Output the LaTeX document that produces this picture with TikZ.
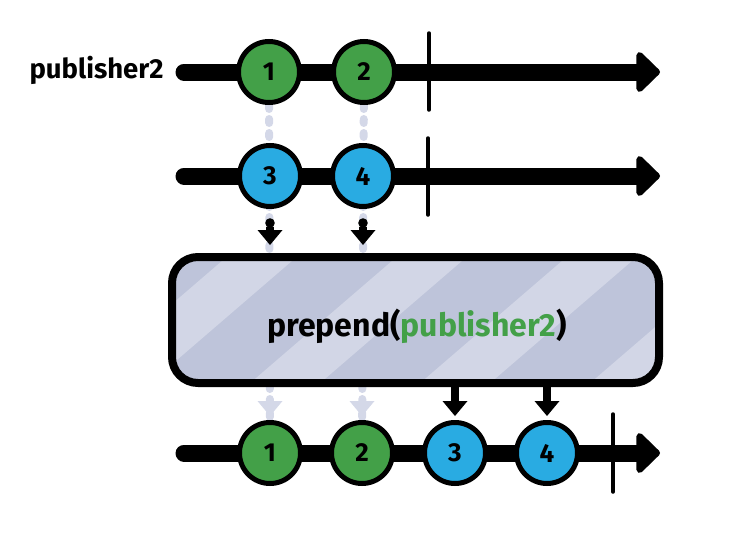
\documentclass[tikz,border=0pt]{standalone}
\usepackage{fontspec}
\setmainfont{Fira Sans}
\usetikzlibrary{arrows.meta,calc,backgrounds}
\definecolor{pgreen}{RGB}{67,160,72}
\definecolor{pblue}{RGB}{41,171,226}
\definecolor{faint}{RGB}{212,216,232}
\definecolor{boxdark}{RGB}{190,196,218}
\definecolor{boxlight}{RGB}{210,214,230}
\newcommand\headdown[2]{% #1 coordinate of tip, #2 colour
  \fill[#2] ($(#1)+(-12.5,-15)$) -- ($(#1)+(12.5,-15)$) -- (#1) -- cycle;}
\begin{document}
\begin{tikzpicture}[x=1pt,y=-1pt,
  marble/.style={circle, draw=black, line width=5pt, minimum size=61pt, inner sep=0pt,
                 font=\fontsize{26}{26}\selectfont\bfseries},
  gm/.style={marble, fill=pgreen},
  bm/.style={marble, fill=pblue},
  timeline/.style={line width=17pt, line cap=round,
                   -{Triangle[length=25pt 0,width=47pt 0,round]}},
  tickmark/.style={line width=3.5pt, line cap=round},
  faintdots/.style={draw=faint, line width=8pt, line cap=round, dash pattern=on 4pt off 10pt},
  stem/.style={line width=8pt},
  opbox/.style={draw=black, line width=8pt, rounded corners=26pt, fill=boxdark,
                minimum width=487pt, minimum height=126pt, inner sep=0pt},
]
\useasboundingbox (0,0) rectangle (732,557);

% ---- row 1
\coordinate (r1s) at (184,72);
\coordinate (r1e) at (660,72);
\draw[timeline] (r1s) -- (r1e);
\draw[tickmark] (429,33) -- (429,110);
\node[anchor=east, font=\fontsize{27.5}{27.5}\selectfont\bfseries] (lbl) at (167,70) {publisher2};
\node[gm] (a1) at (269,72) {1};
\node[gm] (a2) at (364,72) {2};

% ---- row 2
\coordinate (r2s) at (184,176);
\coordinate (r2e) at (660,176);
\draw[timeline] (r2s) -- (r2e);
\draw[tickmark] (428,138) -- (428,215);
\node[bm] (b1) at (270,176) {3};
\node[bm] (b2) at (363,176) {4};

% ---- row 3
\coordinate (r3s) at (184,453);
\coordinate (r3e) at (660,453);
\draw[timeline] (r3s) -- (r3e);
\draw[tickmark] (613,414) -- (613,492);
\node[gm] (c1) at (270,453) {1};
\node[gm] (c2) at (362,453) {2};
\node[bm] (c3) at (455,453) {3};
\node[bm] (c4) at (547,453) {4};

% ---- faint dotted connectors behind everything
\begin{pgfonlayer}{background}
  \draw[faintdots] (a1) -- (c1);
  \draw[faintdots] (a2) -- (c2);
\end{pgfonlayer}

% ---- operator box (stripes in coordinates relative to the node centre)
\node[opbox, path picture={
    \foreach \k in {-3,...,3}{
      \fill[boxlight] (-355+170*\k,80) -- (-285+170*\k,80) -- (-105+170*\k,-75) -- (-175+170*\k,-75) -- cycle;
    }}] (op) at (415.5,320) {};
\node[font=\fontsize{32}{32}\selectfont\bfseries] (optext) at (417,326) {prepend(\textcolor{pgreen}{publisher2})};

% ---- arrows from row 2 into the box
\coordinate (d1) at ($(b1.south)+(0,14)$);
\coordinate (d2) at ($(b2.south)+(0,14)$);
\coordinate (t1) at ($(op.north -| b1)+(0,-8)$);
\coordinate (t2) at ($(op.north -| b2)+(0,-8)$);
\fill (d1) circle (4.8);
\fill (d2) circle (4.8);
\draw[stem] ($(d1)+(0,4)$) -- ($(t1)+(0,-10)$);
\draw[stem] ($(d2)+(0,4)$) -- ($(t2)+(0,-10)$);
\headdown{t1}{black}
\headdown{t2}{black}

% ---- arrows from the box to row 3
\coordinate (u1) at ($(c1.north)+(0,-4)$);
\coordinate (u2) at ($(c2.north)+(0,-4)$);
\coordinate (u3) at ($(c3.north)+(0,-4)$);
\coordinate (u4) at ($(c4.north)+(0,-4)$);
\headdown{u1}{faint}
\headdown{u2}{faint}
\draw[stem, draw=black] ($(op.south -| c3)+(0,0)$) -- ($(u3)+(0,-12)$);
\draw[stem, draw=black] ($(op.south -| c4)+(0,0)$) -- ($(u4)+(0,-12)$);
\headdown{u3}{black}
\headdown{u4}{black}
\end{tikzpicture}
\end{document}
